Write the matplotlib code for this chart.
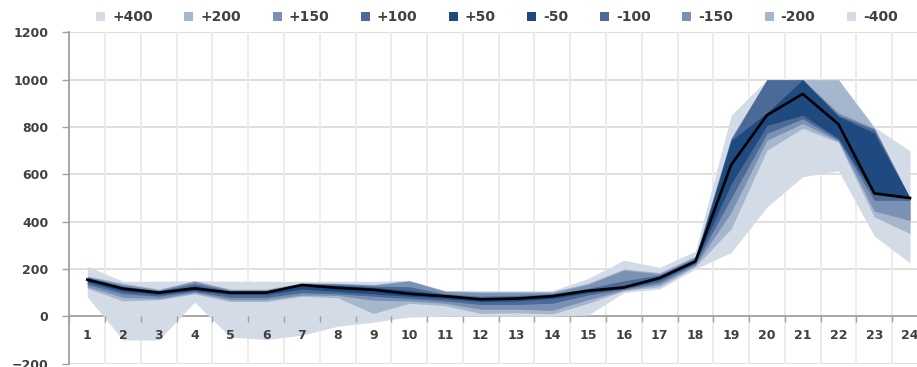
import matplotlib
matplotlib.use("Agg")
import matplotlib.pyplot as plt
from matplotlib.patches import Patch

hours = list(range(1, 25))
base = [155, 117, 100, 118, 100, 100, 132, 120, 112, 95, 85, 72, 75, 85, 108, 122, 162, 232, 640, 850, 940, 812, 520, 500]

upper_400 = [212, 148, 148, 150, 148, 148, 148, 148, 148, 152, 108, 108, 108, 108, 160, 237, 207, 275, 850, 1000, 1000, 1000, 800, 700]
upper_200 = [170, 140, 115, 150, 115, 115, 142, 140, 135, 150, 108, 105, 105, 105, 140, 200, 185, 255, 755, 1000, 1000, 1000, 798, 500]
upper_150 = [168, 135, 112, 148, 112, 112, 140, 138, 132, 150, 105, 100, 100, 100, 135, 195, 180, 250, 752, 1000, 1000, 860, 795, 500]
upper_100 = [165, 128, 108, 138, 108, 108, 138, 135, 128, 125, 95, 85, 88, 95, 118, 150, 175, 245, 748, 1000, 1000, 850, 790, 500]
upper_50 = [160, 122, 104, 128, 104, 104, 136, 130, 122, 110, 90, 78, 80, 90, 112, 130, 168, 238, 744, 860, 1000, 845, 775, 500]

lower_50 = [145, 105, 92, 110, 92, 92, 115, 105, 95, 85, 75, 62, 65, 75, 100, 118, 155, 228, 560, 807, 850, 752, 515, 495]
lower_100 = [135, 95, 85, 105, 80, 80, 100, 95, 85, 75, 65, 50, 50, 55, 90, 115, 145, 222, 500, 773, 835, 745, 490, 490]
lower_150 = [125, 80, 75, 100, 70, 70, 90, 88, 68, 65, 55, 30, 30, 25, 70, 110, 135, 215, 440, 744, 815, 740, 445, 405]
lower_200 = [118, 65, 70, 95, 62, 62, 85, 78, 12, 55, 45, 12, 15, 10, 55, 108, 125, 210, 370, 702, 795, 735, 420, 350]
lower_400 = [82, -100, -100, 60, -88, -98, -80, -42, -25, -3, 0, 0, 0, 0, 5, 100, 115, 200, 270, 462, 590, 615, 340, 225]

legend_labels = ["+400", "+200", "+150", "+100", "+50", "-50", "-100", "-150", "-200", "-400"]

c400 = "#d3dbe6"
c200 = "#a6b6cd"
c150 = "#7a91b3"
c100 = "#4b6a98"
c50 = "#1f4a80"
text_color = "#404040"

fig = plt.figure(figsize=(9.17, 3.67), dpi=100)
ax = fig.add_axes([69.4 / 917, 3.4 / 367, 858.5 / 917, (363.6 - 32.4) / 367])
ax.set_axisbelow(False)

bands = [
    (upper_400, lower_400, c400),
    (upper_200, lower_200, c200),
    (upper_150, lower_150, c150),
    (upper_100, lower_100, c100),
    (upper_50, lower_50, c50),
]
for up, lo, col in bands:
    ax.fill_between(hours, lo, up, color=col, linewidth=0, zorder=2)

ax.plot(hours, base, color="black", linewidth=1.9, zorder=4)

ax.set_xlim(0.5, 24.5)
ax.set_ylim(-200, 1200)
ax.set_yticks(range(-200, 1201, 200))
ax.set_xticks(hours)
ax.set_xticks([h + 0.5 for h in range(0, 25)], minor=True)

ax.grid(False)
for yv in range(-200, 1201, 200):
    if yv != 0:
        ax.axhline(yv, color="#dcdcdc", linewidth=1.3, zorder=1)
for xv in range(0, 25):
    ax.axvline(xv + 0.5, color="#ebebeb", linewidth=1.3, zorder=1)

for s in ["top", "right"]:
    ax.spines[s].set_visible(False)
ax.spines["left"].set_color("#a0a0a0")
ax.spines["left"].set_linewidth(1.3)
ax.spines["left"].set_zorder(1.5)
ax.spines["bottom"].set_position(("data", 0))
ax.spines["bottom"].set_color("#a0a0a0")
ax.spines["bottom"].set_linewidth(1.3)
ax.spines["bottom"].set_zorder(1.5)

ax.tick_params(axis="x", which="major", length=0, pad=9, labelsize=9,
               labelcolor=text_color)
ax.tick_params(axis="x", which="minor", length=4, width=1, color="#a0a0a0")
ax.tick_params(axis="y", length=5, width=1, color="#a0a0a0", pad=10,
               labelsize=9, labelcolor=text_color)
for lab in ax.get_xticklabels() + ax.get_yticklabels():
    lab.set_fontweight("bold")

cols = [c400, c200, c150, c100, c50, c50, c100, c150, c200, c400]
handles = [Patch(facecolor=c, edgecolor="none") for c in cols]
leg = fig.legend(handles, legend_labels, ncol=10, loc="center",
                 bbox_to_anchor=(497 / 917, 1 - 17 / 367), frameon=False,
                 handlelength=0.65, handleheight=0.6, handletextpad=0.5,
                 columnspacing=2.27, prop={"size": 10, "weight": "bold"})
for t in leg.get_texts():
    t.set_color(text_color)

fig.savefig("out.png", dpi=100, facecolor="white")
